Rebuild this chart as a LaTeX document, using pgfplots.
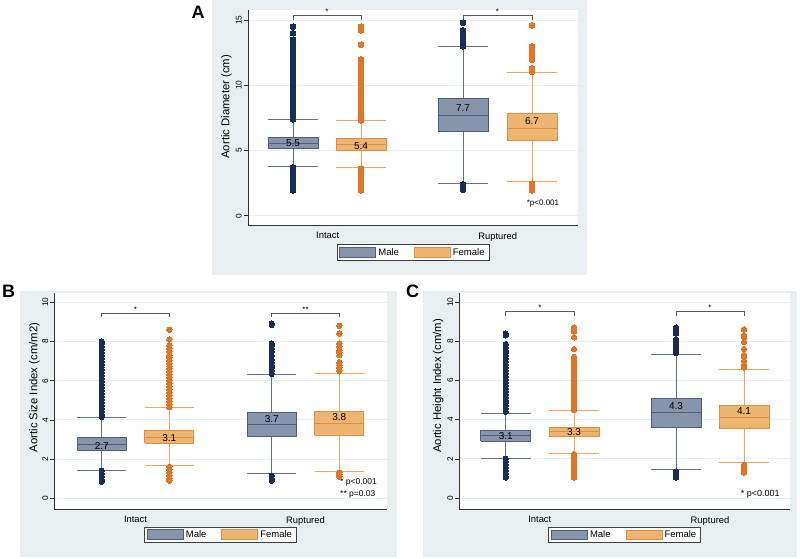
\documentclass[border=0pt]{standalone}
\usepackage{fontspec}
\setmainfont{Liberation Sans}
\usepackage{pgfplots}
\pgfplotsset{compat=1.18}
\definecolor{bgcol}{RGB}{233,239,241}
\definecolor{gridcol}{RGB}{233,240,242}
\definecolor{maleline}{RGB}{78,92,128}
\definecolor{malefill}{RGB}{136,147,172}
\definecolor{malewh}{RGB}{100,114,146}
\definecolor{maleout}{RGB}{28,44,90}
\definecolor{femline}{RGB}{230,140,60}
\definecolor{femfill}{RGB}{236,181,114}
\definecolor{femwh}{RGB}{240,166,98}
\definecolor{femout}{RGB}{226,116,36}
\definecolor{brk}{RGB}{90,90,90}
\newcommand\fs[1]{\fontsize{#1}{#1}\selectfont}
\pgfplotsset{
  panel/.style={
    scale only axis, axis lines*=left, clip=false,
    axis background/.style={fill=white},
    axis line style={draw=black!80, line width=0.7pt},
    /pgf/number format/assume math mode=true,
    ymajorgrids, grid style={draw=gridcol, line width=1pt},
    xtick style={draw=none},
    ytick style={draw=black!80, line width=0.6pt},
    tick align=outside, major tick length=4pt,
    yticklabel style={rotate=90, anchor=south, font=\fs{8.3}, inner sep=2pt},
    xticklabel style={font=\fs{9.4}, inner sep=3pt},
    ylabel style={font=\fs{11.3}},
    unbounded coords=jump,
    legend columns=2,
    legend style={draw=black!75, fill=white, line width=0.6pt, font=\fs{9.5},
      inner xsep=2.5pt, inner ysep=1.5pt,
      /tikz/every even column/.append style={column sep=13pt}},
    legend image code/.code={\draw[##1] (0pt,-4.7pt) rectangle (36pt,4.7pt);},
  },
  mbox/.style={draw=maleline, fill=malefill, line width=0.9pt, line join=miter},
  fbox/.style={draw=femline, fill=femfill, line width=0.9pt, line join=miter},
  mmed/.style={draw=maleline, line width=1pt},
  fmed/.style={draw=femline, line width=1pt},
  mwh/.style={draw=malewh, line width=0.9pt},
  fwh/.style={draw=femwh, line width=0.9pt},
  mout/.style={only marks, mark=*, mark options={draw=maleout, fill=maleout, line width=0pt}},
  fout/.style={only marks, mark=*, mark options={draw=femout, fill=femout, line width=0pt}},
}
\begin{document}
\begin{tikzpicture}[x=1pt,y=1pt]
\useasboundingbox (0,0) rectangle (800,558);
\fill[bgcol] (211.7,283) rectangle (586.7,558);
\fill[bgcol] (20,1) rectangle (397,267);
\fill[bgcol] (423,1) rectangle (797,267);
\node[font=\fs{18}\bfseries] at (198,546) {A};
\node[font=\fs{18}\bfseries] at (8.5,267) {B};
\node[font=\fs{18}\bfseries] at (412.5,267) {C};

% ---------------- Panel A ----------------
\begin{axis}[panel, at={(248pt,333pt)}, anchor=south west, width=330pt, height=215pt,
  xmin=248, xmax=578, ymin=-0.71, ymax=15.77,
  xtick={327.7,497.7}, xticklabels={Intact,Ruptured},
  ytick={0,5,10,15},
  ylabel={Aortic Diameter (cm)},
  ylabel style={at={(axis description cs:-0.065,0.55)}, anchor=center},
  legend style={at={(axis description cs:0.5,-0.09)}, anchor=north},
  mark size=2.9pt]
\addlegendimage{mbox}
\addlegendentry{Male}
\addlegendimage{fbox}
\addlegendentry{Female}
% whiskers
\addplot[mwh] coordinates {(293,6.03) (293,7.36) (293,nan) (268,7.36) (318,7.36) (293,nan) (293,5.15) (293,3.77) (293,nan) (268,3.77) (318,3.77)};
\addplot[fwh] coordinates {(361,5.92) (361,7.28) (361,nan) (336,7.28) (386,7.28) (361,nan) (361,5.0) (361,3.69) (361,nan) (336,3.69) (386,3.69)};
\addplot[mwh] coordinates {(463,9.0) (463,12.95) (463,nan) (438,12.95) (488,12.95) (463,nan) (463,6.46) (463,2.5) (463,nan) (438,2.5) (488,2.5)};
\addplot[fwh] coordinates {(532,7.82) (532,10.98) (532,nan) (507,10.98) (557,10.98) (532,nan) (532,5.75) (532,2.59) (532,nan) (507,2.59) (557,2.59)};
% outliers
\addplot[mout] coordinates {(293,7.4) (293,7.6) (293,7.8) (293,8.0) (293,8.2) (293,8.4) (293,8.6) (293,8.8) (293,9.0) (293,9.2) (293,9.4) (293,9.6) (293,9.8) (293,10.0) (293,10.2) (293,10.4) (293,10.6) (293,10.8) (293,11.0) (293,11.2) (293,11.4) (293,11.6) (293,11.8) (293,12.0) (293,12.2) (293,12.4) (293,12.6) (293,12.8) (293,13.0) (293,13.2) (293,13.5) (293,14.0) (293,14.5) (293,3.7) (293,3.5) (293,3.3) (293,3.1) (293,2.9) (293,2.7) (293,2.5) (293,2.3) (293,2.1) (293,1.95)};
\addplot[fout] coordinates {(361,7.3) (361,7.5) (361,7.7) (361,7.9) (361,8.1) (361,8.3) (361,8.5) (361,8.7) (361,8.9) (361,9.1) (361,9.3) (361,9.5) (361,9.7) (361,9.9) (361,10.1) (361,10.3) (361,10.5) (361,10.7) (361,10.9) (361,11.1) (361,11.4) (361,11.6) (361,12.0) (361,13.1) (361,14.2) (361,14.5) (361,3.6) (361,3.4) (361,3.2) (361,3.0) (361,2.8) (361,2.6) (361,2.4) (361,2.2) (361,2.0) (361,1.95)};
\addplot[mout] coordinates {(463,13.0) (463,13.2) (463,13.4) (463,13.6) (463,13.8) (463,14.0) (463,14.2) (463,14.8) (463,2.4) (463,2.2) (463,2.0)};
\addplot[fout] coordinates {(532,11.05) (532,11.3) (532,11.95) (532,12.15) (532,12.35) (532,12.75) (532,13.0) (532,14.6) (532,2.45) (532,2.3) (532,2.1) (532,1.95)};
% boxes
\addplot[mbox] coordinates {(268,5.15) (318,5.15) (318,6.03) (268,6.03) (268,5.15)};
\addplot[fbox] coordinates {(336,5.0) (386,5.0) (386,5.92) (336,5.92) (336,5.0)};
\addplot[mbox] coordinates {(438,6.46) (488,6.46) (488,9.0) (438,9.0) (438,6.46)};
\addplot[fbox] coordinates {(507,5.75) (557,5.75) (557,7.82) (507,7.82) (507,5.75)};
% medians
\addplot[mmed] coordinates {(268,5.57) (318,5.57)};
\addplot[fmed] coordinates {(336,5.46) (386,5.46)};
\addplot[mmed] coordinates {(438,7.72) (488,7.72)};
\addplot[fmed] coordinates {(507,6.72) (557,6.72)};
\node[font=\fs{10}] at (axis cs:293,5.55) {5.5};
\node[font=\fs{10}] at (axis cs:361,5.36) {5.4};
\node[font=\fs{10}] at (axis cs:463,8.23) {7.7};
\node[font=\fs{10}] at (axis cs:532,7.28) {6.7};
\draw[brk, line width=0.6pt] (axis cs:293,15.0) -- (axis cs:293,15.38) -- (axis cs:361,15.38) -- (axis cs:361,15.0);
\draw[brk, line width=0.6pt] (axis cs:463,15.0) -- (axis cs:463,15.38) -- (axis cs:532,15.38) -- (axis cs:532,15.0);
\node[font=\fs{8}, anchor=base, inner sep=0pt] at (axis cs:327,15.4) {*};
\node[font=\fs{8}, anchor=base, inner sep=0pt] at (axis cs:497.5,15.4) {*};
\node[font=\fs{8}] at (axis cs:543,0.97) {*p<0.001};
\end{axis}

% ---------------- Panel B ----------------
\begin{axis}[panel, at={(54.3pt,48.7pt)}, anchor=south west, width=332.4pt, height=216pt,
  xmin=54.3, xmax=386.7, ymin=-0.56, ymax=10.46,
  xtick={135.5,305.5}, xticklabels={Intact,Ruptured},
  ytick={0,2,4,6,8,10},
  ylabel={Aortic Size Index (cm/m2)},
  ylabel style={at={(axis description cs:-0.06,0.564)}, anchor=center},
  legend style={at={(axis description cs:0.5,-0.08)}, anchor=north},
  mark size=2.7pt]
\addlegendimage{mbox}
\addlegendentry{Male}
\addlegendimage{fbox}
\addlegendentry{Female}
\addplot[mwh] coordinates {(101.7,3.09) (101.7,4.13) (101.7,nan) (77.2,4.13) (126.2,4.13) (101.7,nan) (101.7,2.46) (101.7,1.44) (101.7,nan) (77.2,1.44) (126.2,1.44)};
\addplot[fwh] coordinates {(169.3,3.48) (169.3,4.62) (169.3,nan) (144.8,4.62) (193.8,4.62) (169.3,nan) (169.3,2.8) (169.3,1.66) (169.3,nan) (144.8,1.66) (193.8,1.66)};
\addplot[mwh] coordinates {(271.7,4.39) (271.7,6.31) (271.7,nan) (247.2,6.31) (296.2,6.31) (271.7,nan) (271.7,3.16) (271.7,1.26) (271.7,nan) (247.2,1.26) (296.2,1.26)};
\addplot[fwh] coordinates {(339.3,4.45) (339.3,6.39) (339.3,nan) (314.8,6.39) (363.8,6.39) (339.3,nan) (339.3,3.23) (339.3,1.38) (339.3,nan) (314.8,1.38) (363.8,1.38)};
\addplot[mout] coordinates {(101.7,4.15) (101.7,4.3) (101.7,4.45) (101.7,4.6) (101.7,4.75) (101.7,4.9) (101.7,5.05) (101.7,5.2) (101.7,5.35) (101.7,5.5) (101.7,5.65) (101.7,5.8) (101.7,5.95) (101.7,6.1) (101.7,6.25) (101.7,6.4) (101.7,6.55) (101.7,6.7) (101.7,6.85) (101.7,7.0) (101.7,7.15) (101.7,7.3) (101.7,7.45) (101.7,7.6) (101.7,7.75) (101.7,7.9) (101.7,8.0) (101.7,1.4) (101.7,1.25) (101.7,1.1) (101.7,0.95) (101.7,0.85)};
\addplot[fout] coordinates {(169.3,4.65) (169.3,4.8) (169.3,4.95) (169.3,5.1) (169.3,5.25) (169.3,5.4) (169.3,5.55) (169.3,5.7) (169.3,5.85) (169.3,6.0) (169.3,6.15) (169.3,6.3) (169.3,6.45) (169.3,6.6) (169.3,6.75) (169.3,6.9) (169.3,7.05) (169.3,7.2) (169.3,7.3) (169.3,7.5) (169.3,7.65) (169.3,7.8) (169.3,8.1) (169.3,8.6) (169.3,1.6) (169.3,1.45) (169.3,1.3) (169.3,1.15) (169.3,1.0) (169.3,0.9)};
\addplot[mout] coordinates {(271.7,6.35) (271.7,6.5) (271.7,6.65) (271.7,6.8) (271.7,6.95) (271.7,7.1) (271.7,7.3) (271.7,7.5) (271.7,7.65) (271.7,7.8) (271.7,7.9) (271.7,8.85) (271.7,8.92) (271.7,1.15) (271.7,1.0) (271.7,0.9)};
\addplot[fout] coordinates {(339.3,6.5) (339.3,6.65) (339.3,6.8) (339.3,6.95) (339.3,7.3) (339.3,7.45) (339.3,7.55) (339.3,7.75) (339.3,7.9) (339.3,8.4) (339.3,8.8) (339.3,1.3) (339.3,1.2) (339.3,1.1)};
\addplot[mbox] coordinates {(77.2,2.46) (126.2,2.46) (126.2,3.09) (77.2,3.09) (77.2,2.46)};
\addplot[fbox] coordinates {(144.8,2.8) (193.8,2.8) (193.8,3.48) (144.8,3.48) (144.8,2.8)};
\addplot[mbox] coordinates {(247.2,3.16) (296.2,3.16) (296.2,4.39) (247.2,4.39) (247.2,3.16)};
\addplot[fbox] coordinates {(314.8,3.23) (363.8,3.23) (363.8,4.45) (314.8,4.45) (314.8,3.23)};
\addplot[mmed] coordinates {(77.2,2.77) (126.2,2.77)};
\addplot[fmed] coordinates {(144.8,3.11) (193.8,3.11)};
\addplot[mmed] coordinates {(247.2,3.76) (296.2,3.76)};
\addplot[fmed] coordinates {(314.8,3.81) (363.8,3.81)};
\node[font=\fs{10}] at (axis cs:101.7,2.68) {2.7};
\node[font=\fs{10}] at (axis cs:169.3,3.06) {3.1};
\node[font=\fs{10}] at (axis cs:271.7,4.05) {3.7};
\node[font=\fs{10}] at (axis cs:339.3,4.13) {3.8};
\draw[brk, line width=0.6pt] (axis cs:101.7,9.23) -- (axis cs:101.7,9.44) -- (axis cs:169.3,9.44) -- (axis cs:169.3,9.23);
\draw[brk, line width=0.6pt] (axis cs:271.7,9.23) -- (axis cs:271.7,9.44) -- (axis cs:339.3,9.44) -- (axis cs:339.3,9.23);
\node[font=\fs{8}, anchor=base, inner sep=0pt] at (axis cs:135.5,9.5) {*};
\node[font=\fs{8}, anchor=base, inner sep=0pt] at (axis cs:305.5,9.5) {**};
\node[font=\fs{8.5}, anchor=west, inner sep=0pt] at (axis cs:340,0.8) {* p<0.001};
\node[font=\fs{8.5}, anchor=west, inner sep=0pt] at (axis cs:340,0.2) {** p=0.03};
\end{axis}

% ---------------- Panel C ----------------
\begin{axis}[panel, at={(459.3pt,49pt)}, anchor=south west, width=330.7pt, height=216pt,
  xmin=459.3, xmax=790, ymin=-0.56, ymax=10.46,
  xtick={539.8,710}, xticklabels={Intact,Ruptured},
  ytick={0,2,4,6,8,10},
  ylabel={Aortic Height Index (cm/m)},
  ylabel style={at={(axis description cs:-0.0635,0.57)}, anchor=center},
  legend style={at={(axis description cs:0.5,-0.082)}, anchor=north},
  mark size=2.7pt]
\addlegendimage{mbox}
\addlegendentry{Male}
\addlegendimage{fbox}
\addlegendentry{Female}
\addplot[mwh] coordinates {(505.7,3.45) (505.7,4.34) (505.7,nan) (480.7,4.34) (530.7,4.34) (505.7,nan) (505.7,2.91) (505.7,2.02) (505.7,nan) (480.7,2.02) (530.7,2.02)};
\addplot[fwh] coordinates {(574,3.62) (574,4.47) (574,nan) (549,4.47) (599,4.47) (574,nan) (574,3.13) (574,2.28) (574,nan) (549,2.28) (599,2.28)};
\addplot[mwh] coordinates {(676,5.08) (676,7.33) (676,nan) (651,7.33) (701,7.33) (676,nan) (676,3.62) (676,1.46) (676,nan) (651,1.46) (701,1.46)};
\addplot[fwh] coordinates {(744,4.74) (744,6.58) (744,nan) (719,6.58) (769,6.58) (744,nan) (744,3.57) (744,1.79) (744,nan) (719,1.79) (769,1.79)};
\addplot[mout] coordinates {(505.7,4.4) (505.7,4.55) (505.7,4.7) (505.7,4.85) (505.7,5.0) (505.7,5.15) (505.7,5.3) (505.7,5.45) (505.7,5.6) (505.7,5.75) (505.7,5.9) (505.7,6.05) (505.7,6.2) (505.7,6.35) (505.7,6.5) (505.7,6.65) (505.7,6.8) (505.7,6.95) (505.7,7.1) (505.7,7.25) (505.7,7.4) (505.7,7.55) (505.7,7.7) (505.7,7.85) (505.7,8.3) (505.7,8.4) (505.7,2.0) (505.7,1.85) (505.7,1.7) (505.7,1.55) (505.7,1.4) (505.7,1.25) (505.7,1.1) (505.7,1.05)};
\addplot[fout] coordinates {(574,4.5) (574,4.65) (574,4.8) (574,4.95) (574,5.1) (574,5.25) (574,5.4) (574,5.55) (574,5.7) (574,5.85) (574,6.0) (574,6.15) (574,6.3) (574,6.45) (574,6.6) (574,6.75) (574,6.9) (574,7.05) (574,7.2) (574,7.6) (574,8.2) (574,8.5) (574,8.6) (574,8.7) (574,2.25) (574,2.1) (574,1.95) (574,1.8) (574,1.65) (574,1.5) (574,1.35) (574,1.2) (574,1.05)};
\addplot[mout] coordinates {(676,7.4) (676,7.55) (676,7.7) (676,7.85) (676,8.0) (676,8.1) (676,8.4) (676,8.55) (676,8.7) (676,1.35) (676,1.2) (676,1.05)};
\addplot[fout] coordinates {(744,6.65) (744,6.8) (744,7.0) (744,7.2) (744,7.3) (744,7.6) (744,7.95) (744,8.2) (744,8.3) (744,8.6) (744,1.7) (744,1.5) (744,1.3)};
\addplot[mbox] coordinates {(480.7,2.91) (530.7,2.91) (530.7,3.45) (480.7,3.45) (480.7,2.91)};
\addplot[fbox] coordinates {(549,3.13) (599,3.13) (599,3.62) (549,3.62) (549,3.13)};
\addplot[mbox] coordinates {(651,3.62) (701,3.62) (701,5.08) (651,5.08) (651,3.62)};
\addplot[fbox] coordinates {(719,3.57) (769,3.57) (769,4.74) (719,4.74) (719,3.57)};
\addplot[mmed] coordinates {(480.7,3.19) (530.7,3.19)};
\addplot[fmed] coordinates {(549,3.37) (599,3.37)};
\addplot[mmed] coordinates {(651,4.35) (701,4.35)};
\addplot[fmed] coordinates {(719,4.13) (769,4.13)};
\node[font=\fs{10}] at (axis cs:505.7,3.18) {3.1};
\node[font=\fs{10}] at (axis cs:574,3.35) {3.3};
\node[font=\fs{10}] at (axis cs:676,4.71) {4.3};
\node[font=\fs{10}] at (axis cs:744,4.42) {4.1};
\draw[brk, line width=0.6pt] (axis cs:505.7,9.3) -- (axis cs:505.7,9.52) -- (axis cs:574,9.52) -- (axis cs:574,9.3);
\draw[brk, line width=0.6pt] (axis cs:676,9.3) -- (axis cs:676,9.52) -- (axis cs:744,9.52) -- (axis cs:744,9.3);
\node[font=\fs{8}, anchor=base, inner sep=0pt] at (axis cs:539.8,9.58) {*};
\node[font=\fs{8}, anchor=base, inner sep=0pt] at (axis cs:710,9.58) {*};
\node[font=\fs{9}, anchor=west, inner sep=0pt] at (axis cs:740.7,0.17) {* p<0.001};
\end{axis}
\end{tikzpicture}
\end{document}
